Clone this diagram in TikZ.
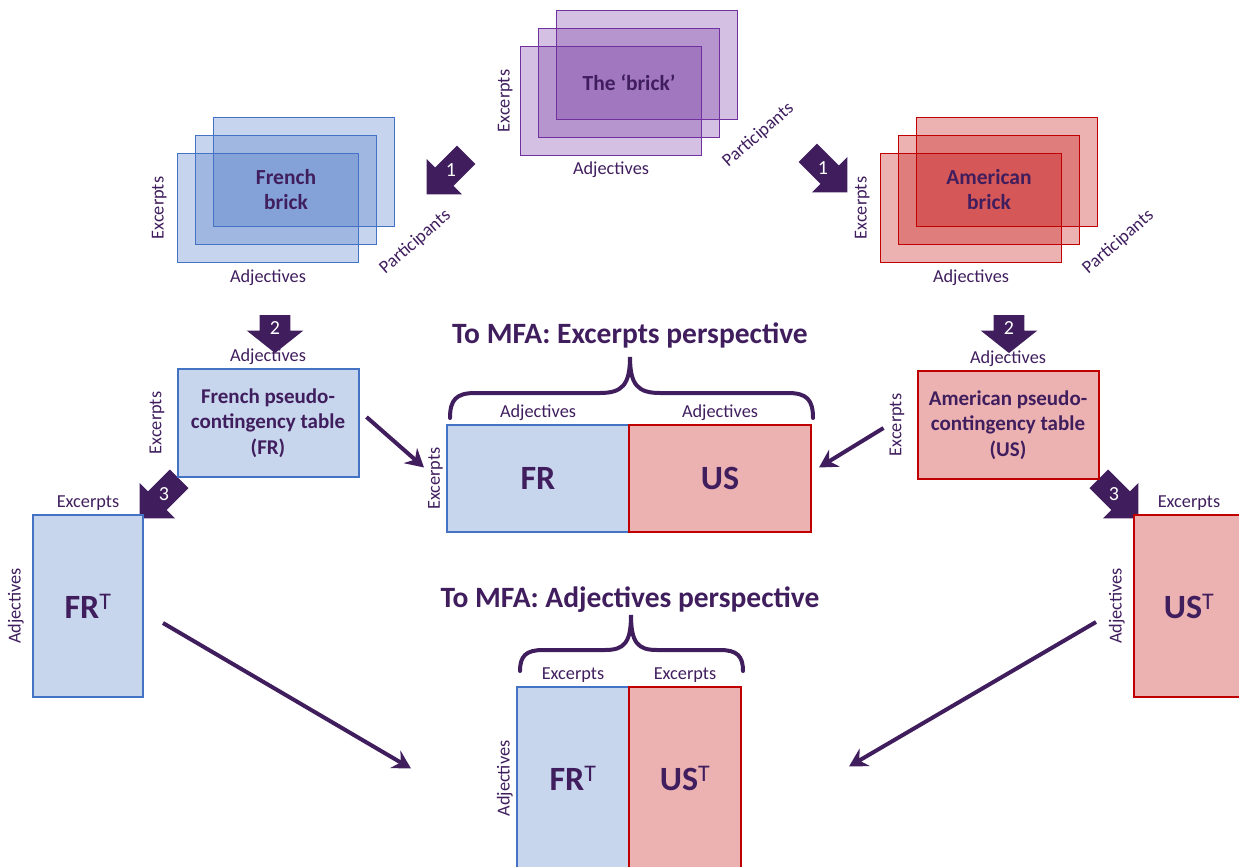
\documentclass[tikz,border=0pt]{standalone}
\usepackage{fontspec}
\setmainfont{Carlito}
\usetikzlibrary{arrows.meta}
\usetikzlibrary{positioning}
\usetikzlibrary{shapes.arrows}

\definecolor{frblue}{RGB}{68,114,196}
\definecolor{usred}{RGB}{192,0,0}
\definecolor{brickpurple}{RGB}{112,48,160}
\definecolor{ink}{RGB}{64,30,94}

\begin{document}
\begin{tikzpicture}[x=1pt, y=-1pt,
    >={Stealth[length=18pt,width=20pt,inset=6pt]},
    brick/.style = {rectangle, line width=1.6pt, fill opacity=0.3,
                    minimum width=181pt, minimum height=109pt},
    frbrick/.style = {brick, draw=frblue, fill=frblue},
    usbrick/.style = {brick, draw=usred, fill=usred},
    bigbrick/.style = {brick, draw=brickpurple, fill=brickpurple},
    brickname/.style = {align=center, text=ink,
                        font=\fontsize{21.5}{25}\selectfont\bfseries},
    axis/.style = {text=ink, inner sep=1pt,
                   font=\fontsize{18.3}{20}\selectfont},
    frtable/.style = {rectangle, draw=frblue, fill=frblue!30, line width=2pt,
                      minimum width=181pt, minimum height=108pt, align=center,
                      text=ink, font=\fontsize{21}{25.5}\selectfont\bfseries},
    ustable/.style = {frtable, draw=usred, fill=usred!30},
    frmat/.style = {rectangle, draw=frblue, fill=frblue!30, line width=2pt,
                    text=ink, font=\fontsize{34}{40}\selectfont\bfseries},
    usmat/.style = {frmat, draw=usred, fill=usred!30},
    stepper/.style = {single arrow, fill=ink, text=white,
                      inner xsep=0pt, inner ysep=4.7pt,
                      font=\fontsize{20}{20}\selectfont,
                      single arrow head extend=12pt, single arrow tip angle=90,
                      minimum height=56pt, minimum width=50pt},
    downstep/.style = {stepper, inner ysep=10pt, single arrow head extend=13pt,
                       single arrow tip angle=103,
                       minimum height=38pt, minimum width=56pt},
    title/.style = {text=ink, font=\fontsize{29.5}{32}\selectfont\bfseries},
    link/.style = {->, line width=4pt, draw=ink},
    brace/.style = {line width=4pt, draw=ink, line cap=round}]

  \useasboundingbox (0,0) rectangle (1239,867);

  % the brick
  \node (bigback) [bigbrick] at (647,65) {};
  \node (bigmid) [bigbrick] at (629,83) {};
  \node (bigfront) [bigbrick] at (611,101) {};
  \node (bigname) [brickname] at (bigmid) {The `brick'};
  \node [axis, anchor=north] at ([yshift=-4pt]bigfront.south) {Adjectives};
  \node [axis, rotate=90, anchor=south] at ([xshift=-6pt]bigfront.west) {Excerpts};
  \node [axis, rotate=41] at ([shift={(38,-3)}]bigmid.south east) {Participants};

  % French brick
  \node (frback) [frbrick] at (304,172) {};
  \node (frmid) [frbrick] at (286,190) {};
  \node (frfront) [frbrick] at (268,208) {};
  \node (frname) [brickname] at (frmid) {French\\brick};
  \node [axis, anchor=north] at ([yshift=-5pt]frfront.south) {Adjectives};
  \node [axis, rotate=90, anchor=south] at ([xshift=-9pt]frfront.west) {Excerpts};
  \node [axis, rotate=41] at ([shift={(38,-3)}]frmid.south east) {Participants};

  % American brick
  \node (usback) [usbrick] at (1007,172) {};
  \node (usmid) [usbrick] at (989,190) {};
  \node (usfront) [usbrick] at (971,208) {};
  \node (usname) [brickname] at (usmid) {American\\brick};
  \node [axis, anchor=north] at ([yshift=-5pt]usfront.south) {Adjectives};
  \node [axis, rotate=90, anchor=south] at ([xshift=-9pt]usfront.west) {Excerpts};
  \node [axis, rotate=41] at ([shift={(38,-3)}]usmid.south east) {Participants};

  % steps
  \node (frstepa) [stepper, rotate=225] at (451,170) {\rotatebox{135}{1}};
  \node (usstepa) [stepper, rotate=-45] at (823,168) {\rotatebox{45}{1}};
  \node (frstepb) [downstep, rotate=-90] at (275,328) {\rotatebox{90}{2}};
  \node (usstepb) [downstep, rotate=-90] at (1009,328) {\rotatebox{90}{2}};
  \node (frstepc) [stepper, rotate=225] at (164,494) {\rotatebox{135}{3}};
  \node (usstepc) [stepper, rotate=-45] at (1114,494) {\rotatebox{45}{3}};

  % pseudo-contingency tables
  \node (frtab) [frtable] at (268,423) {French pseudo-\\contingency table\\(FR)};
  \node [axis, anchor=south] at ([yshift=2pt]frtab.north) {Adjectives};
  \node [axis, rotate=90, anchor=south] at ([xshift=-11pt]frtab.west) {Excerpts};

  \node (ustab) [ustable] at (1008,425) {American pseudo-\\contingency table\\(US)};
  \node [axis, anchor=south] at ([yshift=2pt]ustab.north) {Adjectives};
  \node [axis, rotate=90, anchor=south] at ([xshift=-11pt]ustab.west) {Excerpts};

  % transposed tables
  \node (frT) [frmat, minimum width=110pt, minimum height=182pt] at (88,606) {FR\textsuperscript{\mdseries T}};
  \node [axis, anchor=south] at ([yshift=2pt]frT.north) {Excerpts};
  \node [axis, rotate=90, anchor=south] at ([xshift=-7pt]frT.west) {Adjectives};

  \node (usT) [usmat, minimum width=110pt, minimum height=182pt] at (1189,606) {US\textsuperscript{\mdseries T}};
  \node [axis, anchor=south] at ([yshift=2pt]usT.north) {Excerpts};
  \node [axis, rotate=90, anchor=south] at ([xshift=-7pt]usT.west) {Adjectives};

  % excerpts perspective
  \node (exctitle) [title] at (630,335) {To MFA: Excerpts perspective};
  \node (mfafr) [frmat, minimum width=182pt, minimum height=107pt] at (538,478.5) {FR};
  \node (mfaus) [usmat, minimum width=182pt, minimum height=107pt] at (720,478.5) {US};
  \node [axis, anchor=south] at ([yshift=2pt]mfafr.north) {Adjectives};
  \node [axis, anchor=south] at ([yshift=2pt]mfaus.north) {Adjectives};
  \node [axis, rotate=90, anchor=south] at ([xshift=-2pt]mfafr.west) {Excerpts};
  \draw[brace] (450,418) .. controls (450,400) and (456,393) .. (475,393) -- (600,393)
    .. controls (622,393) and (630,385) .. (630,357)
    .. controls (630,385) and (638,393) .. (660,393) -- (788,393)
    .. controls (807,393) and (813,400) .. (813,418);

  % adjectives perspective
  \node (adjtitle) [title] at (630,600) {To MFA: Adjectives perspective};
  \node (mfafrT) [frmat, minimum width=112pt, minimum height=183pt] at (573,778.5) {FR\textsuperscript{\mdseries T}};
  \node (mfausT) [usmat, minimum width=112pt, minimum height=183pt] at (685,778.5) {US\textsuperscript{\mdseries T}};
  \node [axis, anchor=south] at ([yshift=2pt]mfafrT.north) {Excerpts};
  \node [axis, anchor=south] at ([yshift=2pt]mfausT.north) {Excerpts};
  \node [axis, rotate=90, anchor=south] at ([xshift=-2pt]mfafrT.west) {Adjectives};
  \draw[brace] (520,671) .. controls (520,656) and (526,650) .. (543,650) -- (605,650)
    .. controls (624,650) and (631,643) .. (631,615)
    .. controls (631,643) and (638,650) .. (657,650) -- (720,650)
    .. controls (737,650) and (743,656) .. (743,671);

  \draw[link] ([shift={(7,-6)}]frtab.east) -- ([shift={(-22,-11)}]mfafr.west);
  \draw[link] ([shift={(-33,3)}]ustab.west) -- ([shift={(7,-11)}]mfaus.east);
  \draw[link] ([shift={(19,17)}]frT.east) -- ([shift={(-105,-10)}]mfafrT.west);
  \draw[link] ([shift={(-37,16)}]usT.west) -- ([shift={(107,-12)}]mfausT.east);
\end{tikzpicture}
\end{document}
